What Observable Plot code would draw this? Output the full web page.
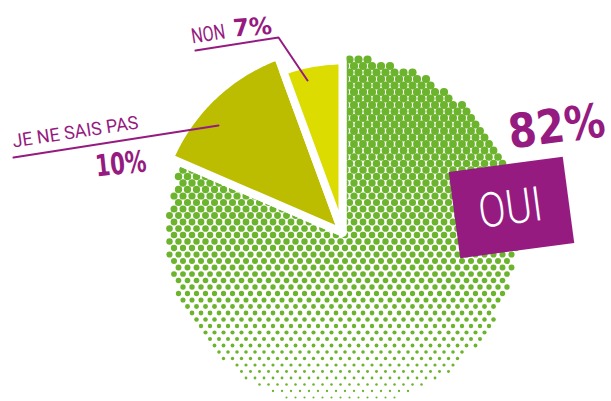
<!DOCTYPE html>
<html><head><meta charset="utf-8">
<script src="https://cdn.jsdelivr.net/npm/d3@7"></script>
<script src="https://cdn.jsdelivr.net/npm/@observablehq/plot@0.6"></script>
<style>html,body{margin:0;padding:0;background:#fff;overflow:hidden}</style>
</head><body><div id="chart"></div>
<script>
// ---- data ----
const categories = ["OUI", "JE NE SAIS PAS", "NON"];
const percents = [82, 10, 7];          // printed values
const shares = [81.5, 12.9, 5.6];      // angular share of each slice as drawn
const colors = ["#6cb42d", "#bcbd00", "#dcdc00"];

// ---- layout ----
const W = 611, H = 401;
const cx = 342, cy = 232;
const Rg = 175;                         // radius of the halftone (OUI) slice
const radii = [190, 188, 172];          // outline radii (stroke trims 4px)
const gap = 8;
const purple = "#951b81";
const light = "Roboto, 'DejaVu Sans Condensed', sans-serif";
const bold = "'DejaVu Sans Condensed', Roboto, sans-serif";

const pie = d3.pie().sort(null).value(d => d)(shares);
const pt = (a, r) => [cx + r * Math.sin(a), cy - r * Math.cos(a)];

function slicePoints(i) {
  const p = pie[i], r = radii[i];
  const n = Math.max(8, Math.ceil((p.endAngle - p.startAngle) * 180 / Math.PI));
  const out = [{x: cx, y: cy}];
  for (let j = 0; j <= n; j++) {
    const a = p.startAngle + (p.endAngle - p.startAngle) * j / n;
    const [x, y] = pt(a, r);
    out.push({x, y});
  }
  out.push({x: cx, y: cy});
  return out;
}

// halftone texture for the OUI slice (dots shrink towards the bottom)
const dots = [];
for (let row = 0, y = cy - Rg + 2; y <= cy + Rg; row++, y += 6.5) {
  for (let x = cx - Rg + (row % 2 ? 4.5 : 0) + 2; x <= cx + Rg; x += 9) {
    const dx = x - cx, dy = y - cy;
    if (Math.hypot(dx, dy) > Rg) continue;
    let a = Math.atan2(dx, -dy); if (a < 0) a += 2 * Math.PI;
    if (a < pie[0].startAngle || a > pie[0].endAngle) continue;
    dots.push({x, y, r: Math.max(0.6, 4.1 - 2.7e-5 * (y - 60) ** 2)});
  }
}

// OUI box
const box = (() => {
  const c = [511, 207], w = 115, h = 87, t = -7.6 * Math.PI / 180;
  const pts = [[-w/2,-h/2],[w/2,-h/2],[w/2,h/2],[-w/2,h/2],[-w/2,-h/2]];
  return pts.map(([u, v]) => ({x: c[0] + u*Math.cos(t) - v*Math.sin(t), y: c[1] + u*Math.sin(t) + v*Math.cos(t)}));
})();

const leaderNon = [{x:195,y:50},{x:278,y:37},{x:307,y:80}];
const leaderJnsp = [{x:13,y:157},{x:218,y:125}];

function fit(L) {
  return (i, s, v, d, c, next) => {
    const g = next(i, s, v, d, c);
    for (const t of g.querySelectorAll("text")) {
      t.setAttribute("textLength", L);
      t.setAttribute("lengthAdjust", "spacingAndGlyphs");
    }
    return g;
  };
}
function label(t, x, y, L, o) {
  return Plot.text([{t, x, y}], {x: "x", y: "y", text: "t", fill: purple, textAnchor: "start", lineAnchor: "bottom", render: fit(L), ...o});
}

const chart = Plot.plot({
  width: W, height: H, margin: 0,
  x: {domain: [0, W], range: [0, W], axis: null},
  y: {domain: [0, H], range: [0, H], axis: null},
  r: {type: "identity"},
  style: {background: "#fff", overflow: "visible"},
  marks: [
    Plot.dot(dots, {x: "x", y: "y", r: "r", fill: colors[0], stroke: null}),
    Plot.line(slicePoints(0), {x: "x", y: "y", fill: "none", stroke: "white", strokeWidth: gap, strokeLinejoin: "miter"}),
    Plot.line(slicePoints(1), {x: "x", y: "y", fill: colors[1], stroke: "white", strokeWidth: gap, strokeLinejoin: "miter"}),
    Plot.line(slicePoints(2), {x: "x", y: "y", fill: colors[2], stroke: "white", strokeWidth: gap, strokeLinejoin: "miter"}),
    Plot.line(leaderNon, {x: "x", y: "y", stroke: purple, strokeWidth: 2}),
    Plot.line(leaderJnsp, {x: "x", y: "y", stroke: purple, strokeWidth: 2}),
    Plot.line(box, {x: "x", y: "y", fill: purple, stroke: null}),
    label(categories[2], 192, 43, 34, {rotate: -9, fontSize: 21, fontWeight: 400, fontFamily: light}),
    label(percents[2] + "%", 233, 36, 39, {rotate: -4, fontSize: 24, fontWeight: "bold", fontFamily: bold}),
    label(categories[1], 13, 147, 127, {rotate: -8.6, fontSize: 18.5, fontWeight: 400, fontFamily: light}),
    label(percents[1] + "%", 96, 176, 51, {rotate: -6, fontSize: 30, fontWeight: "bold", fontFamily: bold}),
    label(percents[0] + "%", 510, 148, 97, {rotate: -7.4, fontSize: 47, fontWeight: "bold", fontFamily: bold}),
    label(categories[0], 510, 208, 64, {rotate: -7.6, fontSize: 48, fontWeight: 300, fontFamily: light, fill: "white", textAnchor: "middle", lineAnchor: "middle"})
  ]
});
document.getElementById("chart").appendChild(chart);
</script>
</body></html>
